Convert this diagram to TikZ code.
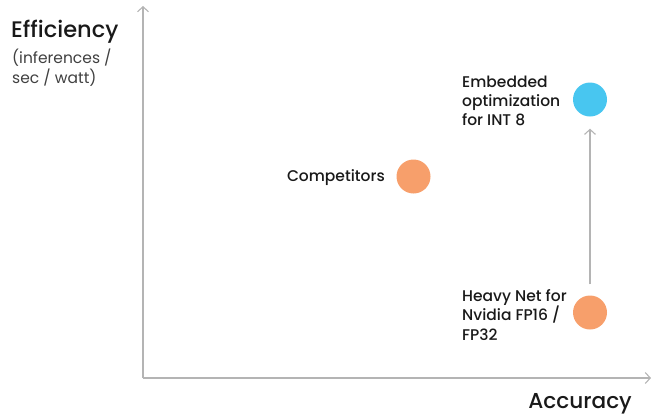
\documentclass[tikz,border=0pt]{standalone}
\usepackage{fontspec}
\setmainfont{Poppins}[UprightFont={* Medium}]
\newfontfamily\unitfont{Poppins}
\usetikzlibrary{arrows.meta}
\definecolor{axisgray}{HTML}{B4B4B4}
\definecolor{dotorange}{HTML}{F79F6B}
\definecolor{dotblue}{HTML}{48C6F0}

\begin{document}
\begin{tikzpicture}[
    x=1pt, y=-1pt,
    ax/.style={draw=axisgray, line width=1.1pt, -{Straight Barb[length=5pt, width=11pt]}},
    dot/.style={circle, inner sep=0pt, minimum size=34pt},
    lbl/.style={align=left, font=\fontsize{15.5}{19.2}\selectfont, text=black!90},
    ttl/.style={font=\fontsize{22.5}{26}\selectfont, text=black!90},
    sub/.style={align=left, font=\unitfont\fontsize{15.5}{19.5}\selectfont, text=black!75}
  ]
  \useasboundingbox (0,0) rectangle (656,416);

  % axes
  \coordinate (orig) at (143, 378);
  \coordinate (ytop) at (143, 6);
  \coordinate (xend) at (651, 378);
  \draw[ax] (orig) -- (ytop);
  \draw[ax] (orig) -- (xend);

  \node[ttl, anchor=base west, inner sep=0pt] (eff) at (11, 37) {Efficiency};
  \node[sub, anchor=north west, inner sep=0pt] (unit) at (12, 49) {(inferences /\\sec / watt)};
  \node[ttl, font=\fontsize{21.6}{26}\selectfont, anchor=base east, inner sep=0pt] (acc) at (632, 408.5) {Accuracy};

  % points
  \node[dot, fill=dotblue]   (emb)   at (590, 99.5)  {};
  \node[dot, fill=dotorange] (comp)  at (413.5, 176.5) {};
  \node[dot, fill=dotorange] (heavy) at (590, 312.5) {};

  \node[lbl, anchor=west, inner sep=0pt] (embl)   at (462, 101) {Embedded\\optimization\\for INT 8};
  \node[lbl, anchor=east, inner sep=0pt] (compl)  at (385, 178) {Competitors};
  \node[lbl, anchor=west, inner sep=0pt] (heavyl) at (462, 315) {Heavy Net for\\Nvidia FP16 /\\FP32};

  \draw[ax, shorten <=11pt, shorten >=12pt] (heavy) -- (emb);
\end{tikzpicture}
\end{document}
